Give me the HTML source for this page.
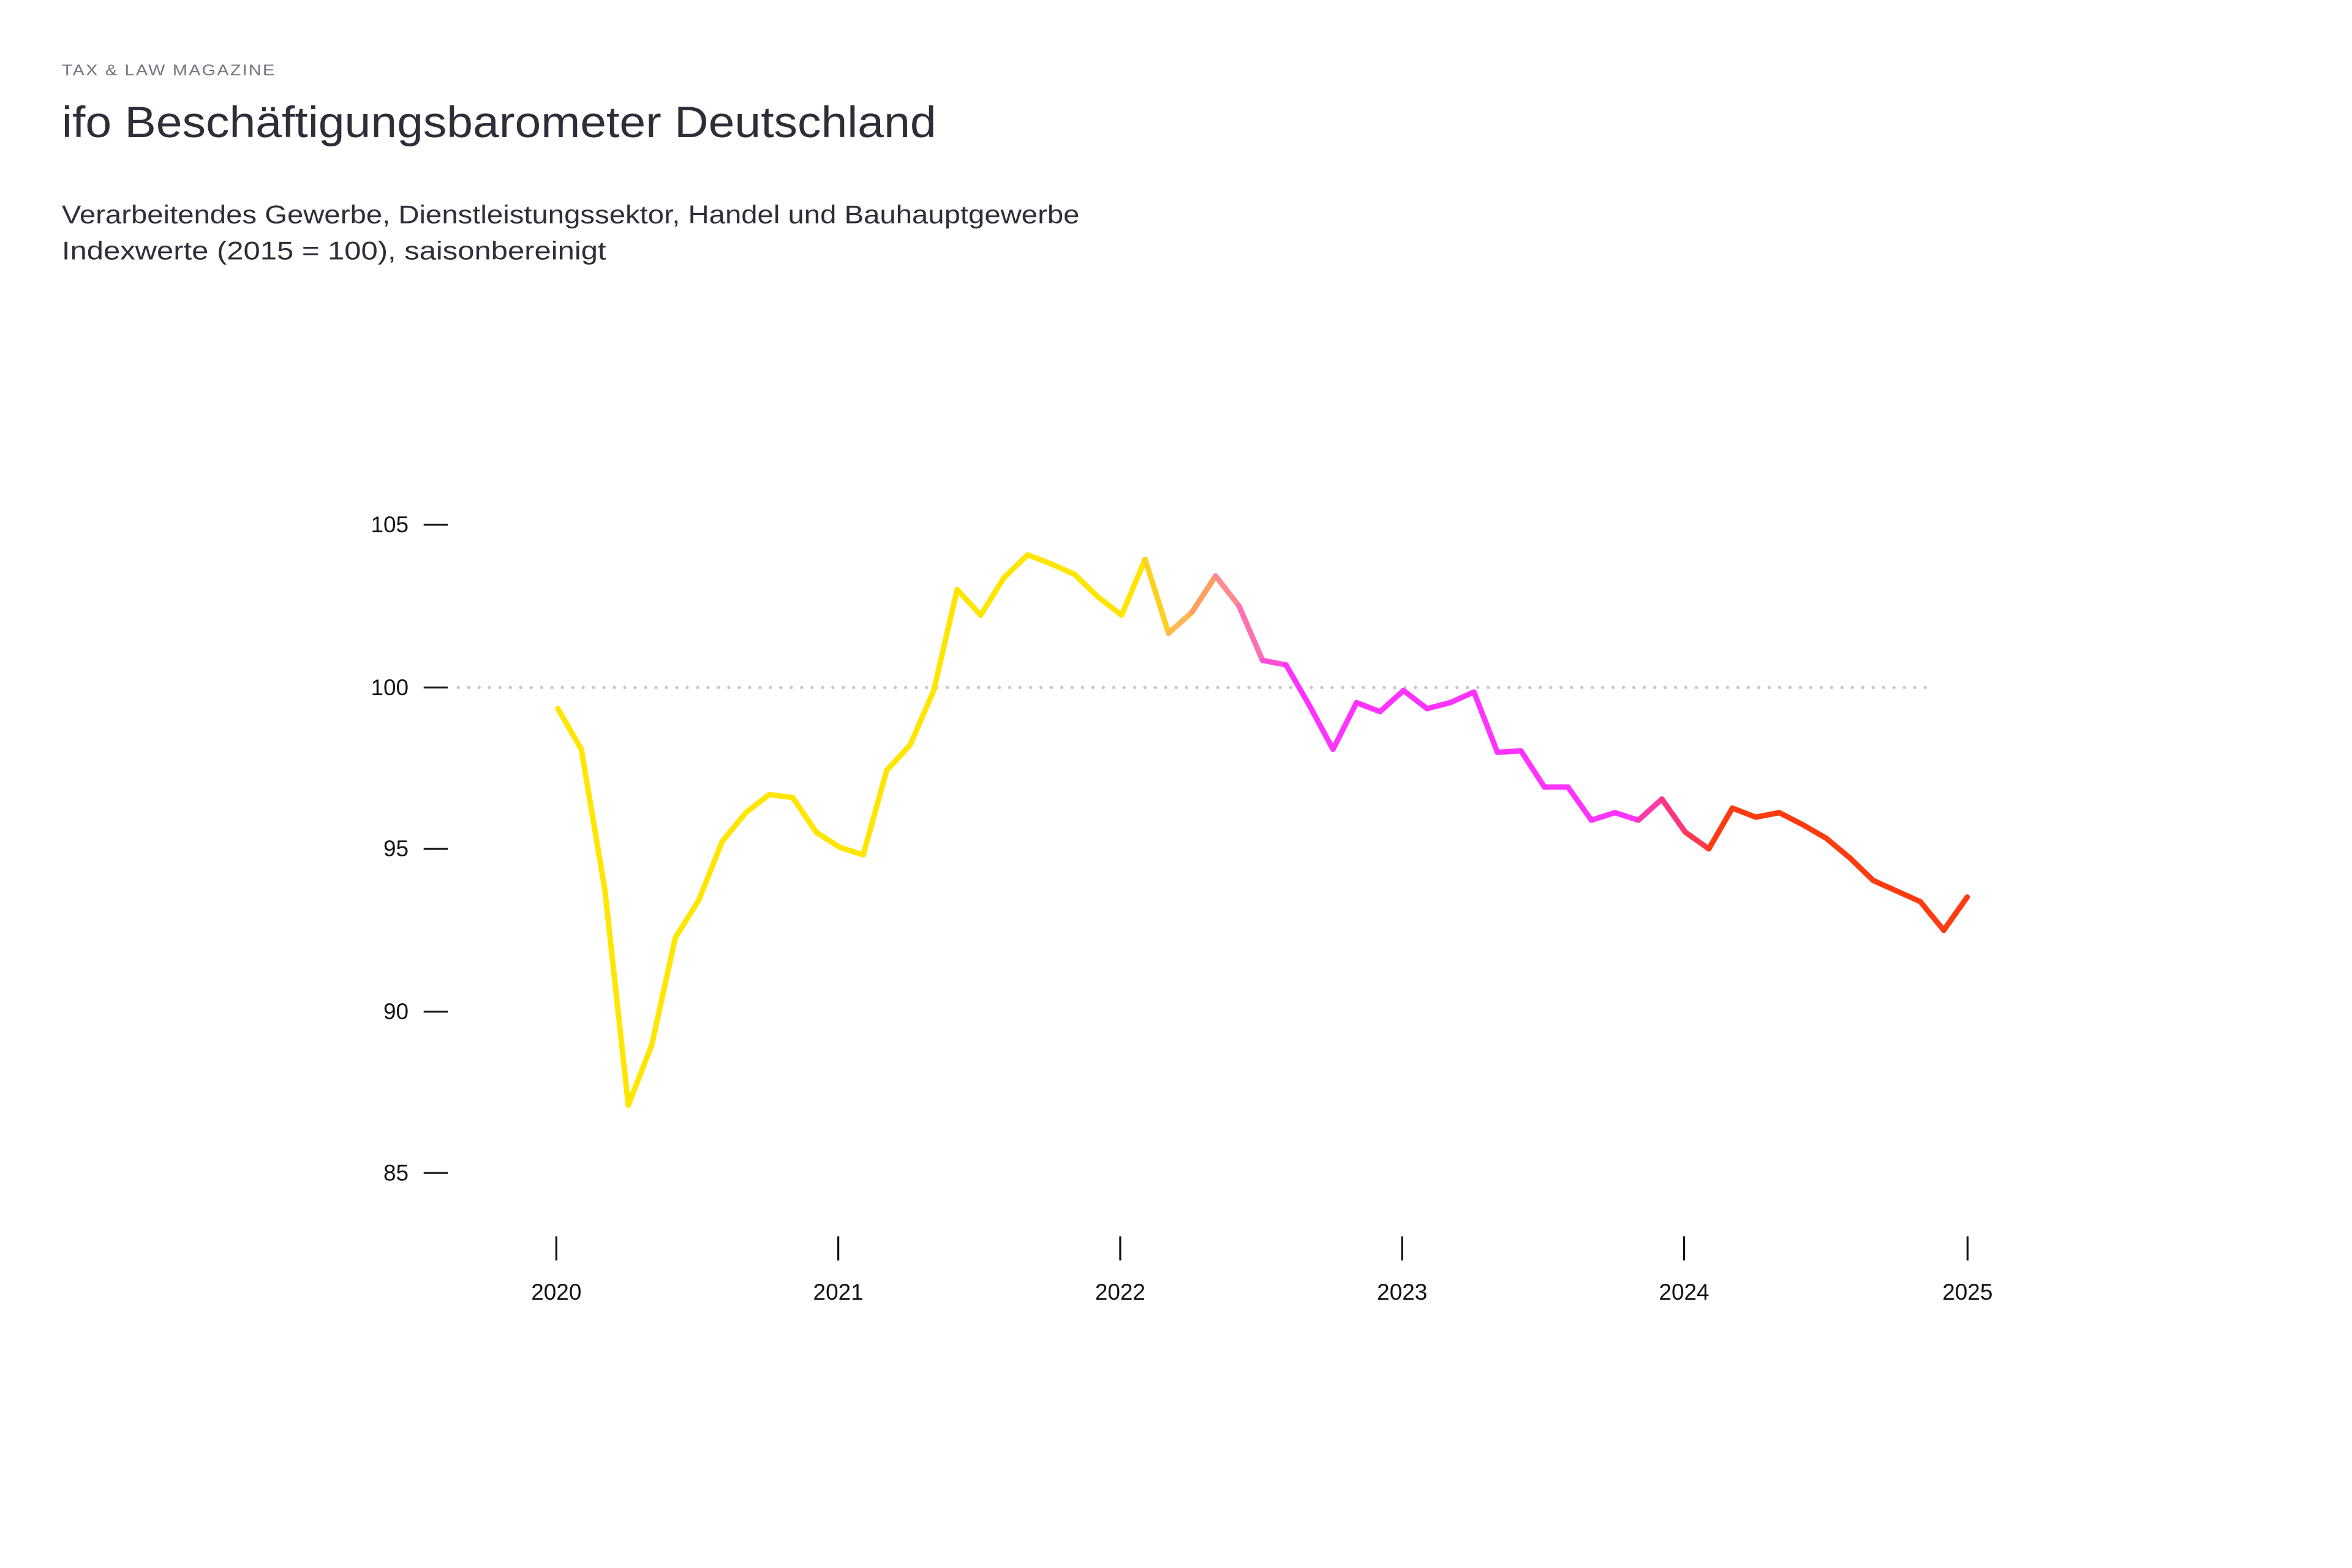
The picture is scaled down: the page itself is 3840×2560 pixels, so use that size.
<!DOCTYPE html>
<html><head><meta charset="utf-8"><style>html,body{margin:0;padding:0;background:#fff}svg{display:block}</style></head>
<body>
<svg width="3840" height="2560" viewBox="0 0 1560 1040" xmlns="http://www.w3.org/2000/svg" font-family="Liberation Sans, sans-serif">
<rect width="1560" height="1040" fill="#fff"/>
<text x="41" y="50" font-size="10" fill="#747480" letter-spacing="0.8" textLength="142" lengthAdjust="spacingAndGlyphs">TAX &amp; LAW MAGAZINE</text>
<text x="41" y="91" font-size="29" fill="#2e2e38" textLength="580" lengthAdjust="spacingAndGlyphs">ifo Beschäftigungsbarometer Deutschland</text>
<text x="41" y="148" font-size="17" fill="#2e2e38" textLength="675" lengthAdjust="spacingAndGlyphs">Verarbeitendes Gewerbe, Dienstleistungssektor, Handel und Bauhauptgewerbe</text>
<text x="41" y="172" font-size="17" fill="#2e2e38" textLength="361" lengthAdjust="spacingAndGlyphs">Indexwerte (2015 = 100), saisonbereinigt</text>
<g font-size="15" fill="#111" text-anchor="end">
<text x="271" y="353">105</text><text x="271" y="461">100</text><text x="271" y="568">95</text><text x="271" y="676">90</text><text x="271" y="783">85</text>
</g>
<g stroke="#111" stroke-width="1.3">
<line x1="281" y1="348" x2="297" y2="348"/><line x1="281" y1="456" x2="297" y2="456"/><line x1="281" y1="563" x2="297" y2="563"/><line x1="281" y1="671" x2="297" y2="671"/><line x1="281" y1="778" x2="297" y2="778"/>
<line x1="369" y1="820" x2="369" y2="836"/><line x1="556" y1="820" x2="556" y2="836"/><line x1="743" y1="820" x2="743" y2="836"/><line x1="930" y1="820" x2="930" y2="836"/><line x1="1117" y1="820" x2="1117" y2="836"/><line x1="1305" y1="820" x2="1305" y2="836"/>
</g>
<g font-size="15" fill="#111" text-anchor="middle">
<text x="369" y="862">2020</text><text x="556" y="862">2021</text><text x="743" y="862">2022</text><text x="930" y="862">2023</text><text x="1117" y="862">2024</text><text x="1305" y="862">2025</text>
</g>
<line x1="304" y1="456" x2="1280" y2="456" stroke="#c8c8cc" stroke-width="2.2" stroke-linecap="round" stroke-dasharray="0 6.9"/>
<g fill="none" stroke-width="3.6" stroke-linejoin="round" stroke-linecap="butt" id="l"></g>
</svg>
<script>
var ys=[470,497,590,733,693,622,597,558,539,527,529,552,562,567,511,494,458,391,408,383,368,374,381,396,408,371,420,406,382,402,438,441,468,497,466,472,458,470,466,459,499,498,522,522,544,539,544,530,552,563,536,542,539,547,556,569,584,591,598,617,595];
function col(i){ // segment i -> i+1
 if(i<25)return"#ffe600";
 var m={25:"#ffd020",26:"#ffb850",27:"#ffa060",28:"#ff8a90",29:"#ff70b0",30:"#ff50d8",46:"#ff3aa8",47:"#ff3480",48:"#ff3a50"};
 if(m[i])return m[i];
 if(i<46)return"#ff33ff";
 return"#ff3b10";}
var g=document.getElementById('l'),ns="http://www.w3.org/2000/svg";
for(var i=0;i<ys.length-1;i++){
 var x1=370+15.58*i,x2=370+15.58*(i+1);
 var p=document.createElementNS(ns,'path');
 var d="M"+x1+","+ys[i]+"L"+x2+","+ys[i+1];
 if(i+2<ys.length && col(i)==col(i+1)){}
 p.setAttribute('d',d);p.setAttribute('stroke',col(i));p.setAttribute('stroke-linecap','round');
 g.appendChild(p);}
</script>
</body></html>
